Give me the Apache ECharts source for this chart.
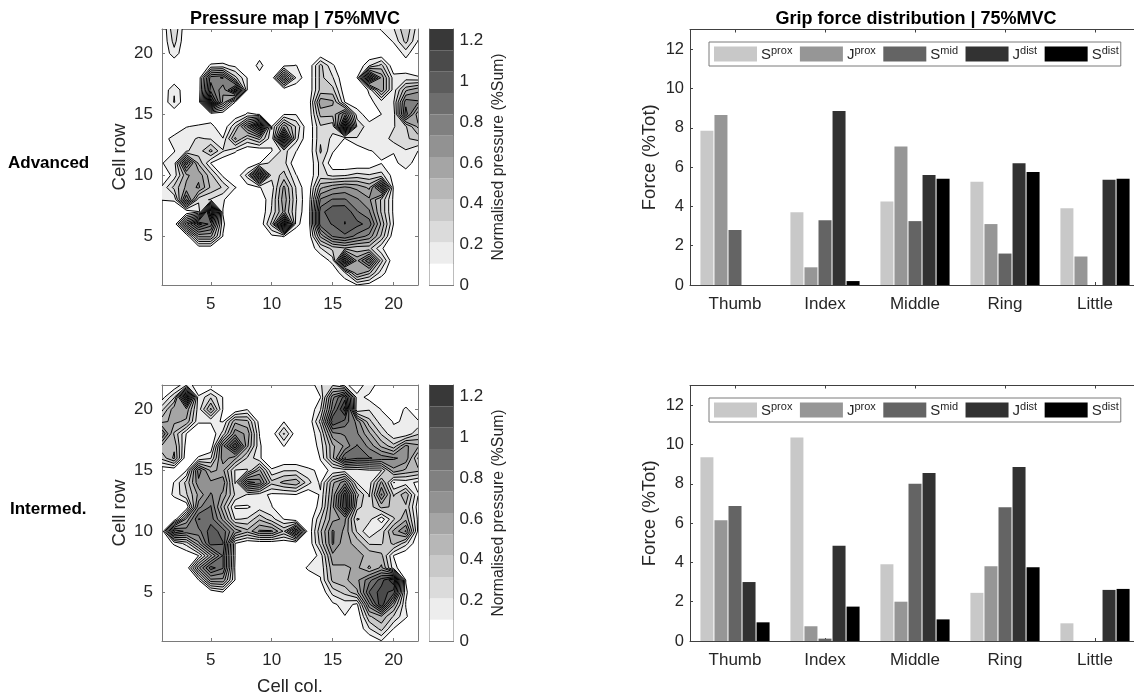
<!DOCTYPE html>
<html><head><meta charset="utf-8">
<style>html,body{margin:0;padding:0;background:#fff;overflow:hidden}#c{width:1134px;height:693px}</style>
<script src="https://cdn.jsdelivr.net/npm/echarts@6/dist/echarts.min.js"></script>
</head><body><div id="c"></div>
<script>
const fingers = ['Thumb','Index','Middle','Ring','Little'];
const regions = ['Sprox','Jprox','Smid','Jdist','Sdist'];
const regionColors = ['#c8c8c8','#969696','#646464','#323232','#000000'];
const advancedForce = [
 [7.85,3.7,4.25,5.25,3.9],
 [8.65,0.9,7.05,3.1,1.45],
 [2.8,3.3,3.25,1.6,0],
 [0,8.85,5.6,6.2,5.35],
 [0,0.2,5.4,5.75,5.4]];
const intermedForce = [
 [9.35,10.35,3.9,2.45,0.9],
 [6.15,0.75,2.0,3.8,0],
 [6.87,0.12,8.0,6.8,0],
 [3.0,4.85,8.55,8.85,2.6],
 [0.95,1.75,1.1,3.75,2.65]];
const cbMax = 1.2575;
const bandCount = 12;
const bandGrays = [255,237,219,201,183,165,146,128,110,92,74,56];
const cbTicks = [0,0.2,0.4,0.6,0.8,1,1.2];
const cellTicks = [5,10,15,20];
const forceTicks = [0,2,4,6,8,10,12];
// rows 1..22 (bottom to top), columns 1..22
const advancedPressure = [
[0,0,0,0,0,0,0,0,0,0,0,0,0,0,0,0,.1,.05,0,0,0,0],
[0,0,0,0,0,0,0,0,0,0,0,0,0,0,0,.2,.6,.45,.15,0,0,0],
[0,0,0,0,0,0,0,0,0,0,0,0,0,0,.15,1.1,.6,.95,.35,0,0,0],
[0,0,0,0,0,0,0,0,0,0,0,0,0,.2,.35,.4,.35,.35,.12,0,0,0],
[0,0,0,.55,.55,.1,0,0,0,.08,.11,0,0,.55,.85,.92,.8,.7,.4,.02,0,0],
[0,0,.7,1.1,.9,.12,0,0,0,.35,1.25,.15,0,.9,.95,1.05,.98,.9,.5,.1,0,0],
[0,0,0,.1,1.3,.1,0,0,0,.22,.55,.2,0,.9,1.03,1.04,.85,.75,.4,.08,0,0],
[.11,.12,.85,.25,.2,.12,0,0,0,.2,.6,.22,0,.75,.85,.85,.75,.65,.4,.08,0,0],
[.12,.35,.55,.65,.4,.3,.11,.05,.1,.15,.55,.2,0,.5,.6,.65,.6,.5,1,.08,0,0],
[0,.15,.5,.6,.35,.08,0,.25,1.05,.25,.35,.11,0,.25,.18,.2,.25,.22,.25,.05,0,0],
[.1,.15,.9,.4,.1,0,0,0,.1,.25,.25,0,0,.25,.02,0,0,.02,.1,.05,.2,0],
[.1,.1,.2,.25,.45,.22,.12,0,0,.1,.25,.11,0,.33,.12,0,.02,.1,.12,.12,.2,.105],
[.05,.15,.18,.22,.2,.11,.55,.3,.45,.12,1.15,.25,0,.3,.18,.1,.2,.2,.15,.25,.3,.35],
[0,0,.1,.12,.15,0,.3,.75,1.2,.1,.6,.3,0,.3,.25,1.25,.3,.14,.15,.2,.3,.55],
[0,0,0,0,0,0,0,.12,.1,0,.1,.1,0,.45,.45,.8,.15,.05,.105,.15,.9,.45],
[0,.22,0,0,1.25,.6,.105,0,0,0,0,0,0,.6,.55,.1,.05,.08,.15,.2,.8,.75],
[0,.2,0,0,.9,.65,1.1,.1,0,0,0,0,0,.35,.35,.02,0,.12,.6,.15,.5,.6],
[0,0,0,0,.8,.85,.35,.1,.05,0,.75,.2,0,.35,.22,0,.105,1.1,.6,.15,.15,.12],
[0,0,0,0,.12,.13,.08,0,.145,0,.08,.11,0,.35,.12,0,0,.2,.35,0,.03,0],
[0,.17,0,0,0,0,0,0,.05,0,0,0,0,0,0,0,0,0,0,0,.15,0],
[0,.25,0,0,0,0,0,0,0,0,0,0,0,0,0,0,0,0,0,.12,.35,.1],
[0,.3,0,0,0,0,0,0,0,0,0,0,0,0,0,0,0,0,.12,.2,.4,.15]];
const intermedPressure = [
[0,0,0,0,0,0,0,0,0,0,0,0,0,0,0,0,0,0,.1,0,0,0],
[0,0,0,0,0,0,0,0,0,0,0,0,0,0,0,0,0,.2,.35,.1,0,0],
[0,0,0,0,0,0,0,0,0,0,0,0,0,0,0,.1,0,.4,.5,.3,.12,0],
[0,0,0,0,0,0,0,0,0,0,0,0,0,0,.08,.15,.08,.7,1.15,.55,.1,0],
[0,0,0,0,0,.1,0,0,0,0,0,0,0,0,.25,.35,.5,.95,1.1,1,.12,0],
[0,0,0,.1,.6,.6,.1,0,0,0,0,0,0,.1,.45,.5,.6,.8,1,1.25,.1,0],
[0,0,0,.6,1,.85,.08,0,0,0,0,0,.13,.12,.5,.5,.55,.4,.55,.15,0,0],
[0,0,0,.1,.5,.85,.1,0,0,0,0,0,0,.15,.6,.6,.55,.5,.45,.1,0,0],
[.02,.12,.25,.6,1,.95,.1,0,0,0,0,0,0,.35,.75,.55,.5,.3,.3,.45,.25,0],
[0,.95,.8,.8,1,.9,.6,.45,.65,.65,.4,.9,0,.4,.75,.6,.3,.11,.25,.55,.75,.08],
[0,0,.55,.95,.9,.6,.2,.22,.4,.25,.1,0,0,.3,.6,.65,.2,.25,.04,.3,.5,.08],
[0,0,0,.7,.85,.45,.09,.09,.15,.11,0,0,0,.15,.6,1.15,.35,.25,.45,.4,.4,.05],
[0,.13,.3,.55,.75,.6,.3,.2,.15,.08,.08,.1,0,.12,.55,1.1,.45,.2,.75,.3,.5,.11],
[0,.11,.35,.7,.65,.7,.2,.9,.8,.35,.45,.5,.25,.08,.5,.7,.2,.15,.55,.1,.15,.08],
[0,0,.1,.8,.5,.55,.2,.2,.55,.12,.2,.2,.13,.08,.12,.15,.15,.2,.2,.6,.5,.45],
[.35,.55,0,.12,.2,.7,.55,.3,.12,0,0,0,0,.11,.5,.95,.85,.85,.8,.75,.7,.3],
[.5,.5,.05,0,0,.7,1.15,.55,.12,0,.11,0,0,.15,.5,.65,.85,.7,.5,.35,.65,.55],
[.85,.4,.1,0,0,.25,.7,.6,.1,.03,.33,.03,0,.2,.7,.75,.75,.55,.3,.12,.12,.3],
[.5,.55,.5,.12,.12,.1,.5,.45,.05,0,.1,0,0,.35,1.05,.9,.7,.35,.15,.1,.11,.12],
[.28,.6,.6,.15,.55,.1,0,.1,0,0,0,0,0,.2,.8,1.2,.11,.2,.1,0,.13,0],
[.05,.3,1.2,.12,.3,.1,0,0,0,0,0,0,0,.1,.7,1,.15,.07,0,0,0,0],
[0,0,.2,0,0,0,0,0,0,0,0,0,0,.2,.3,.15,0,.2,0,0,0,0]];

const FONT = '"Liberation Sans", Arial, sans-serif';
const TXT = '#262626';
const grayOf = g => `rgb(${g},${g},${g})`;
const bandStep = cbMax / bandCount;

function contourPaths(M, L, api) {
  let fill = '', line = '';
  const P = (x, y) => { const c = api.coord([x + 1, y + 1]); return c[0].toFixed(2) + ' ' + c[1].toFixed(2); };
  const poly = pts => 'M' + pts.join('L') + 'Z';
  for (let j = 0; j < M.length - 1; j++) for (let i = 0; i < M[0].length - 1; i++) {
    const cs = [[i,j],[i+1,j],[i+1,j+1],[i,j+1]];
    const v = cs.map(c => M[c[1]][c[0]]);
    const hi = v.map(a => a >= L);
    const cross = [null,null,null,null];
    const pts = [];
    let n = 0;
    for (let k = 0; k < 4; k++) {
      const m = (k + 1) % 4;
      if (hi[k]) pts.push(P(cs[k][0], cs[k][1]));
      if (hi[k] !== hi[m]) {
        const t = (L - v[k]) / (v[m] - v[k]);
        cross[k] = P(cs[k][0] + t * (cs[m][0] - cs[k][0]), cs[k][1] + t * (cs[m][1] - cs[k][1]));
        pts.push(cross[k]);
        n++;
      }
    }
    if (!pts.length) continue;
    const seg = (a, b) => { line += 'M' + cross[a] + 'L' + cross[b]; };
    if (n === 2) {
      fill += poly(pts);
      const idx = [0,1,2,3].filter(k => cross[k]);
      seg(idx[0], idx[1]);
    } else if (n === 4) {
      const centerHigh = (v[0] + v[1] + v[2] + v[3]) / 4 >= L;
      if (centerHigh) {
        fill += poly(pts);
        for (let k = 0; k < 4; k++) if (!hi[k]) seg((k + 3) % 4, k);
      } else {
        for (let k = 0; k < 4; k++) if (hi[k]) {
          fill += poly([cross[(k + 3) % 4], P(cs[k][0], cs[k][1]), cross[k]]);
          seg((k + 3) % 4, k);
        }
      }
    } else fill += poly(pts);
  }
  return { fill, line };
}

const levelIdx = [];
for (let k = 1; k < bandCount; k++) levelIdx.push(k);
const bandIdx = [];
for (let k = 0; k < bandCount; k++) bandIdx.push(k);

const grid = [], xAxis = [], yAxis = [], series = [], legend = [];
const hiddenLabel = { show: false };

function addContour(M, top, showX) {
  const g = grid.length;
  grid.push({ left: 162, top, width: 256, height: 256, outerBoundsMode: 'none' });
  const lc = { lineStyle: { color: '#7a7a7a', width: 1 } };
  const xi = xAxis.length, yi = yAxis.length;
  const tick = { show: true, inside: true, length: 3, customValues: cellTicks, lineStyle: { color: '#7a7a7a' } };
  xAxis.push({ gridIndex: g, type: 'value', min: 1, max: 22, position: 'bottom', axisLine: { show: true, onZero: false, ...lc }, axisTick: tick,
    axisLabel: { show: true, customValues: cellTicks, fontFamily: FONT, fontSize: 17, color: TXT, margin: 11 }, splitLine: { show: false },
    name: showX ? 'Cell col.' : '', nameLocation: 'middle', nameGap: 36, nameMoveOverlap: false, nameTextStyle: { fontFamily: FONT, fontSize: 18.5, color: TXT } });
  xAxis.push({ gridIndex: g, type: 'value', min: 1, max: 22, position: 'top', axisLine: { show: true, onZero: false, ...lc }, axisTick: tick, axisLabel: hiddenLabel, splitLine: { show: false } });
  yAxis.push({ gridIndex: g, type: 'value', min: 1, max: 22, position: 'left', axisLine: { show: true, onZero: false, ...lc }, axisTick: tick,
    axisLabel: { show: true, customValues: cellTicks, fontFamily: FONT, fontSize: 17, color: TXT, margin: 9, padding: [3, 0, 0, 0] }, splitLine: { show: false },
    name: 'Cell row', nameLocation: 'middle', nameGap: 33, nameMoveOverlap: false, nameTextStyle: { fontFamily: FONT, fontSize: 18.5, color: TXT } });
  yAxis.push({ gridIndex: g, type: 'value', min: 1, max: 22, position: 'right', axisLine: { show: true, onZero: false, ...lc }, axisTick: tick, axisLabel: hiddenLabel, splitLine: { show: false } });
  series.push({
    type: 'custom', coordinateSystem: 'cartesian2d', xAxisIndex: xi, yAxisIndex: yi, silent: true, animation: false, clip: true,
    data: levelIdx.map(k => [k]), encode: { x: -1, y: -1 }, z: 2,
    renderItem(params, api) {
      const k = levelIdx[params.dataIndex];
      const p = contourPaths(M, k * bandStep, api);
      const children = [];
      if (p.fill) children.push({ type: 'path', shape: { pathData: p.fill }, style: { fill: grayOf(bandGrays[k]), stroke: null } });
      return { type: 'group', children };
    }
  });
  series.push({
    type: 'custom', coordinateSystem: 'cartesian2d', xAxisIndex: xi, yAxisIndex: yi, silent: true, animation: false, clip: true,
    data: levelIdx.map(k => [k]), encode: { x: -1, y: -1 }, z: 3,
    renderItem(params, api) {
      const k = levelIdx[params.dataIndex];
      const p = contourPaths(M, k * bandStep, api);
      const children = [];
      if (p.line) children.push({ type: 'path', shape: { pathData: p.line }, style: { fill: null, stroke: '#000', lineWidth: 1 } });
      return { type: 'group', children };
    }
  });
}

function addColorbar(top) {
  const g = grid.length;
  grid.push({ left: 429.5, top, width: 24, height: 256, outerBoundsMode: 'none' });
  const lc = { lineStyle: { color: '#7a7a7a', width: 1 } };
  const xi = xAxis.length, yi = yAxis.length;
  xAxis.push({ gridIndex: g, type: 'value', min: 0, max: 1, position: 'bottom', axisLine: { show: true, onZero: false, ...lc }, axisTick: { show: false }, axisLabel: hiddenLabel, splitLine: { show: false } });
  xAxis.push({ gridIndex: g, type: 'value', min: 0, max: 1, position: 'top', axisLine: { show: true, onZero: false, ...lc }, axisTick: { show: false }, axisLabel: hiddenLabel, splitLine: { show: false } });
  yAxis.push({ gridIndex: g, type: 'value', min: 0, max: cbMax, position: 'right', axisLine: { show: true, onZero: false, ...lc },
    axisTick: { show: true, inside: true, length: 3, customValues: cbTicks, lineStyle: { color: '#7a7a7a' } },
    axisLabel: { show: true, customValues: cbTicks, formatter: v => String(v), fontFamily: FONT, fontSize: 17, color: TXT, margin: 6, padding: [3, 0, 0, 0] }, splitLine: { show: false },
    name: 'Normalised pressure (%Sum)', nameLocation: 'middle', nameGap: 37, nameRotate: 90, nameMoveOverlap: false, nameTextStyle: { fontFamily: FONT, fontSize: 15.8, color: TXT } });
  yAxis.push({ gridIndex: g, type: 'value', min: 0, max: cbMax, position: 'left', axisLine: { show: true, onZero: false, ...lc }, axisTick: { show: false }, axisLabel: hiddenLabel, splitLine: { show: false } });
  series.push({
    type: 'custom', coordinateSystem: 'cartesian2d', xAxisIndex: xi, yAxisIndex: yi, silent: true, animation: false,
    data: bandIdx.map(k => [k]), encode: { x: -1, y: -1 }, z: 1,
    renderItem(params, api) {
      const k = bandIdx[params.dataIndex];
      const a = api.coord([0, k * bandStep]), b = api.coord([1, (k + 1) * bandStep]);
      return { type: 'rect', shape: { x: a[0], y: b[1], width: b[0] - a[0], height: a[1] - b[1] }, style: { fill: grayOf(bandGrays[k]) } };
    }
  });
}

function addBars(values, top, height) {
  const g = grid.length;
  grid.push({ left: 690, top, width: 450, height, outerBoundsMode: 'none' });
  const lc = { lineStyle: { color: '#404040', width: 1 } };
  const xi = xAxis.length, yi = yAxis.length;
  const xt = { show: true, inside: true, length: 3, alignWithLabel: true, lineStyle: { color: '#404040' } };
  xAxis.push({ gridIndex: g, type: 'category', data: fingers, position: 'bottom', axisLine: { show: true, onZero: false, ...lc }, axisTick: xt,
    axisLabel: { fontFamily: FONT, fontSize: 17, color: TXT, margin: 11, interval: 0 }, splitLine: { show: false } });
  xAxis.push({ gridIndex: g, type: 'category', data: fingers, position: 'top', axisLine: { show: true, onZero: false, ...lc }, axisTick: xt, axisLabel: hiddenLabel, splitLine: { show: false } });
  yAxis.push({ gridIndex: g, type: 'value', min: 0, max: 13, interval: 2, position: 'left', axisLine: { show: true, onZero: false, ...lc },
    axisTick: { show: true, inside: true, length: 3, customValues: forceTicks, lineStyle: { color: '#404040' } },
    axisLabel: { show: true, customValues: forceTicks, fontFamily: FONT, fontSize: 16.5, color: TXT, margin: 6, padding: [3, 0, 0, 0] }, splitLine: { show: false },
    name: 'Force (%Tot)', nameLocation: 'middle', nameGap: 31, nameMoveOverlap: false, nameTextStyle: { fontFamily: FONT, fontSize: 18.5, color: TXT } });
  regions.forEach((r, i) => {
    series.push({ type: 'bar', name: r, xAxisIndex: xi, yAxisIndex: yi, data: values[i], barWidth: 13, barGap: '8%', silent: true, animation: false,
      itemStyle: { color: regionColors[i], borderWidth: 0 } });
  });
  legend.push({
    data: regions, selectedMode: false, left: 709, top: top + 12.5, width: 425, orient: 'horizontal', icon: 'rect', itemWidth: 43, itemHeight: 15, itemGap: 7.5,
    padding: [3.5, 2, 3.5, 5], backgroundColor: '#fff', borderColor: '#7a7a7a', borderWidth: 1, z: 20,
    formatter: n => `{s|${n[0]}}{p|${n.slice(1)}}`,
    textStyle: { padding: [0, 0, 0, -1], rich: {
      s: { fontFamily: FONT, fontSize: 15, color: TXT, verticalAlign: 'bottom', lineHeight: 17 },
      p: { fontFamily: FONT, fontSize: 11, color: TXT, verticalAlign: 'top', lineHeight: 17 } } }
  });
}

addContour(advancedPressure, 29, false);
addColorbar(29);
addBars(advancedForce, 29.5, 255.5);
addContour(intermedPressure, 385, true);
addColorbar(385);
addBars(intermedForce, 385.5, 255.5);

const chart = echarts.init(document.getElementById('c'), null, { renderer: 'canvas' });
chart.setOption({
  backgroundColor: '#fff',
  animation: false,
  title: [
    { text: 'Pressure map | 75%MVC', left: 290, top: 5, textAlign: 'center', textStyle: { fontFamily: FONT, fontSize: 18, fontWeight: 'bold', color: '#000' } },
    { text: 'Grip force distribution | 75%MVC', left: 911, top: 5, textAlign: 'center', textStyle: { fontFamily: FONT, fontSize: 18, fontWeight: 'bold', color: '#000' } }
  ],
  graphic: [
    { type: 'text', left: 8, top: 155, style: { text: 'Advanced', font: 'bold 17px "Liberation Sans", Arial, sans-serif', fill: '#000' } },
    { type: 'text', left: 10, top: 501, style: { text: 'Intermed.', font: 'bold 17px "Liberation Sans", Arial, sans-serif', fill: '#000' } }
  ],
  tooltip: { show: false },
  legend, grid, xAxis, yAxis, series
});
</script></body></html>
